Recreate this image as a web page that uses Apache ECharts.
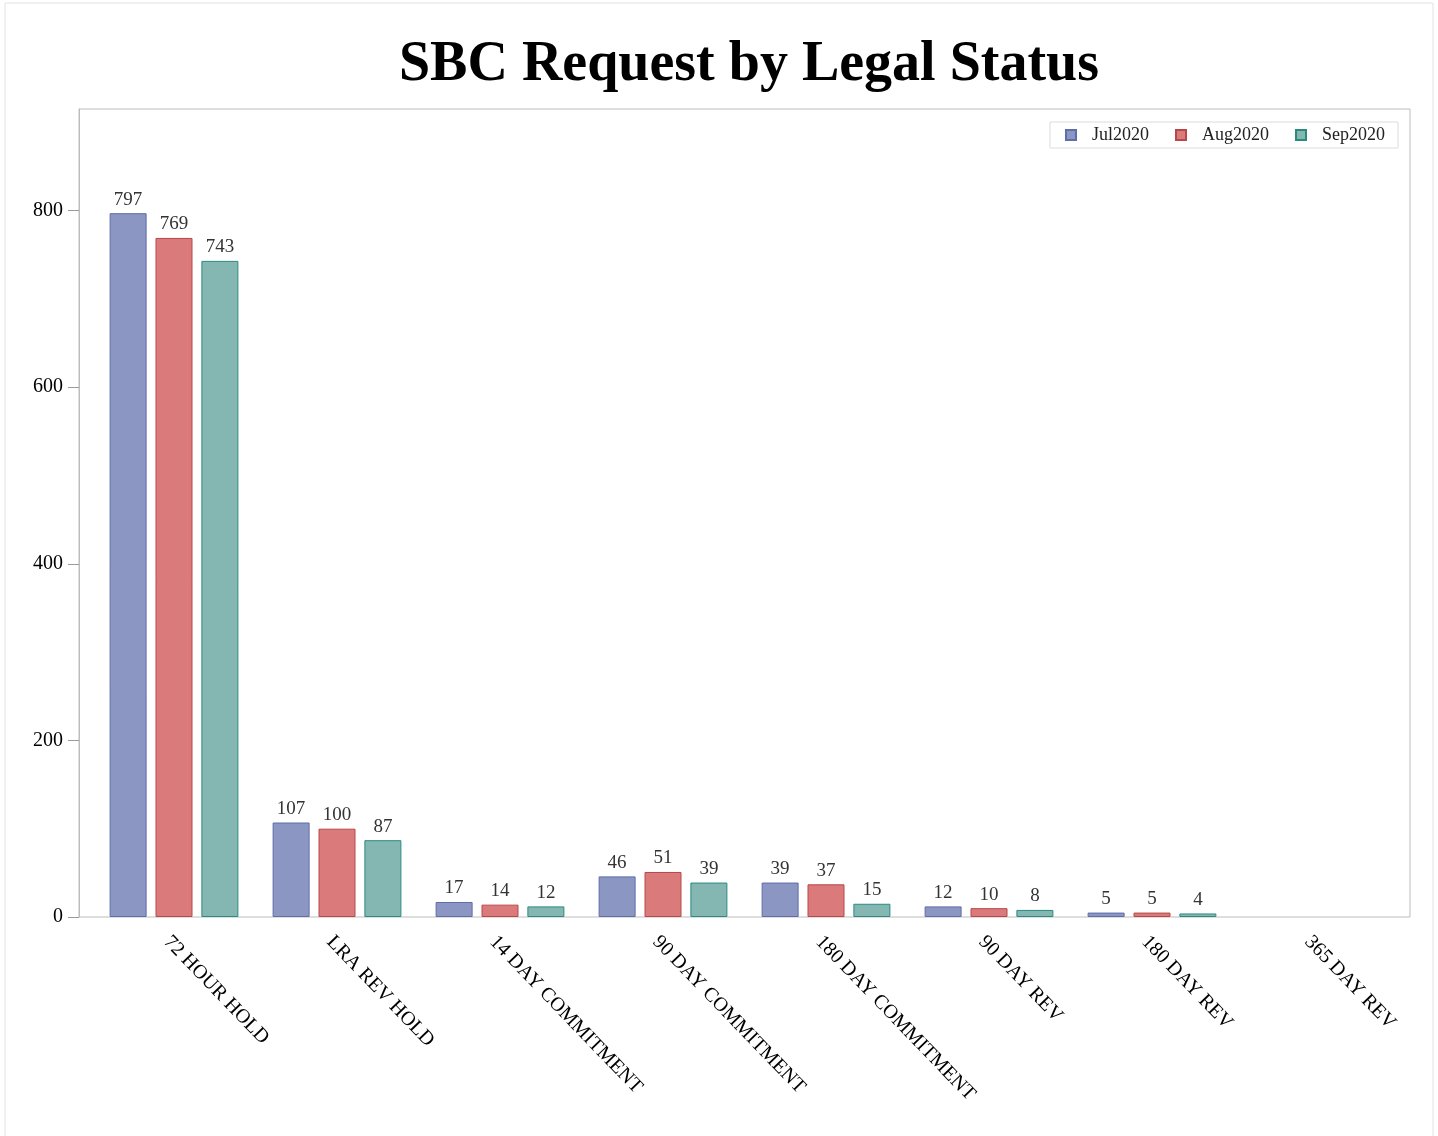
<!DOCTYPE html>
<html>
<head>
<meta charset="utf-8">
<script src="https://cdn.jsdelivr.net/npm/echarts@6/dist/echarts.min.js"></script>
<style>
  html, body { margin: 0; padding: 0; background: #fff; }
  #chart { width: 1438px; height: 1136px; }
</style>
</head>
<body>
<div id="chart"></div>
<script>
const categories = ['72 HOUR HOLD', 'LRA REV HOLD', '14 DAY COMMITMENT', '90 DAY COMMITMENT',
  '180 DAY COMMITMENT', '90 DAY REV', '180 DAY REV', '365 DAY REV']
const jul2020 = [797, 107, 17, 46, 39, 12, 5, 0]
const aug2020 = [769, 100, 14, 51, 37, 10, 5, 0]
const sep2020 = [743, 87, 12, 39, 15, 8, 4, 0]
const yTicks = [0, 200, 400, 600, 800]

const serif = 'Liberation Serif, Times New Roman, serif'
const yMax = 915

function barSeries(name, data, fill, border) {
    return {
        name: name,
        type: 'bar',
        xAxisIndex: 0,
        yAxisIndex: 0,
        // zero counts are not drawn in the original
        data: data.map(v => (v === 0 ? '-' : v)),
        barWidth: 37,
        barGap: '24%',
        itemStyle: { color: fill, borderColor: border, borderWidth: 1 },
        label: {
            show: true, position: 'top', distance: 4,
            color: '#333', fontSize: 19, fontFamily: serif
        }
    }
}

const myChart = echarts.init(document.getElementById('chart'))
myChart.setOption({
    animation: false,
    title: {
        text: 'SBC Request by Legal Status',
        left: 744, top: 33, textAlign: 'center',
        textStyle: { fontFamily: serif, fontWeight: 'bold', fontSize: 56, color: '#000' }
    },
    graphic: [{
        type: 'rect', shape: { x: 5, y: 3, width: 1428, height: 1160 },
        style: { fill: 'none', stroke: '#e2e2e2', lineWidth: 1 }, silent: true
    }],
    legend: {
        top: 122, right: 40,
        itemWidth: 10, itemHeight: 10, itemGap: 26,
        padding: [4, 13, 4, 15],
        borderColor: '#dcdcdc', borderWidth: 1,
        icon: 'rect',
        textStyle: { fontFamily: serif, fontSize: 18, color: '#222', padding: [0, 0, 0, 11] },
        data: ['Jul2020', 'Aug2020', 'Sep2020']
    },
    grid: [
        // bar area (inset like the original plot's offsets)
        { left: 92.5, right: 41.5, top: 109, bottom: 219 },
        // frame + y axis
        { left: 79, right: 28, top: 109, bottom: 219, show: true, borderColor: '#bdbdbd', borderWidth: 1, backgroundColor: 'transparent' }
    ],
    xAxis: [
        {
            type: 'category', gridIndex: 0, data: categories,
            axisLine: { show: false },
            axisTick: { show: false },
            axisLabel: {
                rotate: -46, margin: 15, interval: 0, verticalAlign: 'top',
                fontFamily: serif, fontSize: 20, color: '#000'
            }
        },
        { type: 'value', gridIndex: 1, show: false, min: 0, max: 1 }
    ],
    yAxis: [
        { type: 'value', gridIndex: 0, min: 0, max: yMax, show: false, splitLine: { show: false } },
        {
            type: 'value', gridIndex: 1, min: 0, max: yMax,
            splitLine: { show: false },
            axisLine: { show: true, lineStyle: { color: '#bdbdbd' } },
            axisTick: { show: true, length: 11, customValues: yTicks, lineStyle: { color: '#9a9a9a' } },
            axisLabel: { customValues: yTicks, margin: 16, fontFamily: serif, fontSize: 20, color: '#000' }
        }
    ],
    series: [
        barSeries('Jul2020', jul2020, '#8b96c3', '#5f6da8'),
        barSeries('Aug2020', aug2020, '#db7a7a', '#b84848'),
        barSeries('Sep2020', sep2020, '#84b6b2', '#2a8a80')
    ]
})
</script>
</body>
</html>
